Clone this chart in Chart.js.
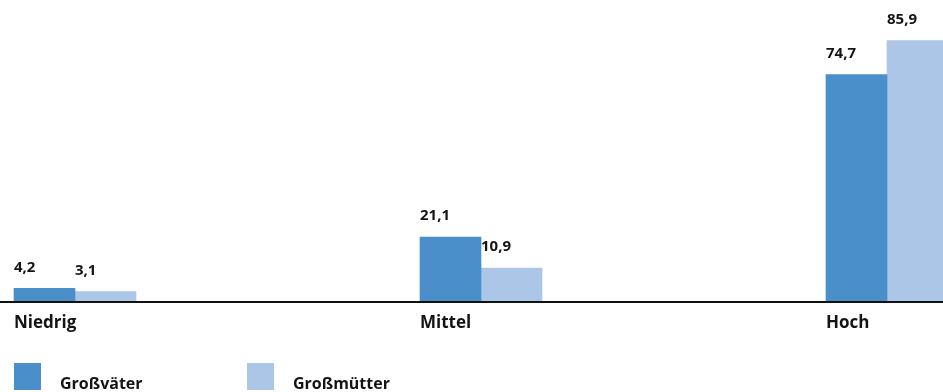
<!DOCTYPE html>
<html lang="de">
<head>
<meta charset="UTF-8">
<title>Großeltern nach Bildungsniveau</title>
<script src="https://cdn.jsdelivr.net/npm/chart.js"></script>
<style>
    html, body { margin: 0; padding: 0; background: #fff; }
    .chart-container { position: relative; width: 943px; height: 392px; }
</style>
</head>
<body>
<div class="chart-container"><canvas id="chart"></canvas></div>
<script>
    // Kategorien und Werte in Prozent
    const categories = ['Niedrig', 'Mittel', 'Hoch'];
    const seriesNames = ['Großväter', 'Großmütter'];
    const grossvaeter = [4.2, 21.1, 74.7];
    const grossmuetter = [3.1, 10.9, 85.9];
    const colors = ['#4a8fca', '#abc6e6'];

    const fontFamily = '"Open Sans", "Noto Sans", sans-serif';
    const textColor = '#141414';

    const fmt = v => v.toFixed(1).replace('.', ',');

    // black base line across the full width
    const baseline = {
        id: 'baseline',
        afterDatasetsDraw(chart) {
            const ctx = chart.ctx;
            const y = chart.scales.y.getPixelForValue(0);
            ctx.save();
            ctx.fillStyle = '#111';
            ctx.fillRect(0, y, chart.width, 2);
            ctx.restore();
        }
    };

    // value labels, left-aligned at the bar's left edge
    const valueLabels = {
        id: 'valueLabels',
        afterDatasetsDraw(chart) {
            const ctx = chart.ctx;
            ctx.save();
            ctx.font = 'bold 15px ' + fontFamily;
            ctx.fillStyle = textColor;
            ctx.textAlign = 'left';
            ctx.textBaseline = 'middle';
            chart.data.datasets.forEach((ds, i) => {
                chart.getDatasetMeta(i).data.forEach((bar, j) => {
                    ctx.fillText(fmt(ds.data[j]), bar.x - bar.width / 2, bar.y - 21);
                });
            });
            ctx.restore();
        }
    };

    // legend row under the axis
    const legendRow = {
        id: 'legendRow',
        afterDraw(chart) {
            const ctx = chart.ctx;
            ctx.save();
            ctx.font = 'bold 16px ' + fontFamily;
            ctx.textAlign = 'left';
            ctx.textBaseline = 'alphabetic';
            chart.data.datasets.forEach((ds, i) => {
                const x = 14 + i * 233;
                ctx.fillStyle = ds.backgroundColor;
                ctx.fillRect(x, 363, 27, 27);
                ctx.fillStyle = textColor;
                ctx.fillText(ds.label, x + 46, 389);
            });
            ctx.restore();
        }
    };

    new Chart(document.getElementById('chart'), {
        type: 'bar',
        data: {
            labels: categories,
            datasets: [
                { label: seriesNames[0], data: grossvaeter, backgroundColor: colors[0], clip: false },
                { label: seriesNames[1], data: grossmuetter, backgroundColor: colors[1], clip: false }
            ]
        },
        options: {
            responsive: true,
            maintainAspectRatio: false,
            animation: false,
            layout: { padding: { left: 75, right: 56, top: 13, bottom: 51 } },
            datasets: { bar: { barThickness: 61 } },
            plugins: {
                legend: { display: false },
                tooltip: { enabled: false }
            },
            scales: {
                x: {
                    offset: false,
                    grid: { display: false, drawTicks: false },
                    border: { display: false },
                    ticks: {
                        align: 'start',
                        labelOffset: -61,
                        padding: 12,
                        autoSkip: false,
                        maxRotation: 0,
                        color: textColor,
                        font: { family: fontFamily, size: 17, weight: 'bold', lineHeight: 1.2 }
                    },
                    afterFit(scale) {
                        scale.height = 40;
                        scale.paddingLeft = 0;
                        scale.paddingRight = 0;
                    }
                },
                y: { display: false, min: 0, max: 95 }
            }
        },
        plugins: [baseline, valueLabels, legendRow]
    });
</script>
</body>
</html>
